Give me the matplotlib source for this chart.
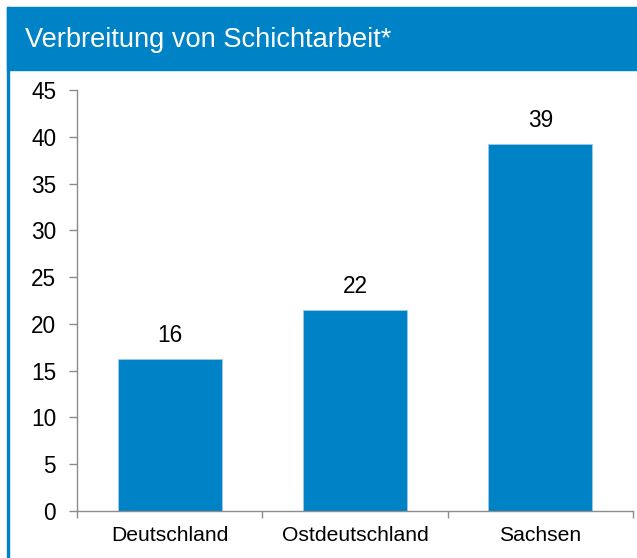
import matplotlib
matplotlib.use("Agg")
import matplotlib.pyplot as plt
import matplotlib.patches as mpatches
import numpy as np

plt.rcParams['font.family'] = ['Liberation Sans', 'DejaVu Sans']

# data
categories = ["Deutschland", "Ostdeutschland", "Sachsen"]
values = [16.2, 21.5, 39.2]
value_labels = ["16", "22", "39"]
title = "Verbreitung von Schichtarbeit*"

blue = "#0082c6"
grey = "#8c8c8c"

W, H = 637, 558
fig = plt.figure(figsize=(W / 100, H / 100), dpi=100)

# frame: title bar + thin blue border on the left
fig.patches.append(mpatches.Rectangle((7 / W, 1 - 70 / H), 1 - 7 / W, 63 / H,
                                      transform=fig.transFigure, color=blue, zorder=0))
fig.patches.append(mpatches.Rectangle((7 / W, 0), 2 / W, 1 - 7 / H,
                                      transform=fig.transFigure, color=blue, zorder=0))
fig.text(25 / W, 1 - 40 / H, title, color="white", fontsize=19.6, va="center", ha="left")

ax = fig.add_axes([77 / W, 1 - 511 / H, (633 - 77) / W, (511 - 90) / H])
x = np.arange(len(categories))
bars = ax.bar(x, values, width=0.56, color=blue, edgecolor="#9fcbe8", linewidth=0.6)

for xi, v, lab in zip(x, values, value_labels):
    ax.annotate(lab, (xi, v), xytext=(0, 17), textcoords="offset points",
                ha="center", va="center", fontsize=16.3)

ax.set_xlim(-0.5, len(categories) - 0.5)
ax.set_ylim(0, 45)
ax.set_yticks(np.arange(0, 46, 5))
ax.set_xticks(x)
ax.set_xticklabels(categories)
ax.set_xticks(np.arange(-0.5, len(categories), 1), minor=True)

for s in ["top", "right"]:
    ax.spines[s].set_visible(False)
for s in ["left", "bottom"]:
    ax.spines[s].set_color(grey)
    ax.spines[s].set_linewidth(1.0)

ax.tick_params(axis="y", length=6, color=grey, width=1.0, labelsize=16.3, pad=9)
ax.tick_params(axis="x", which="major", length=0, labelsize=15.2, pad=11)
ax.tick_params(axis="x", which="minor", length=5, color=grey, width=1.0)

plt.savefig("out.png", dpi=100)
